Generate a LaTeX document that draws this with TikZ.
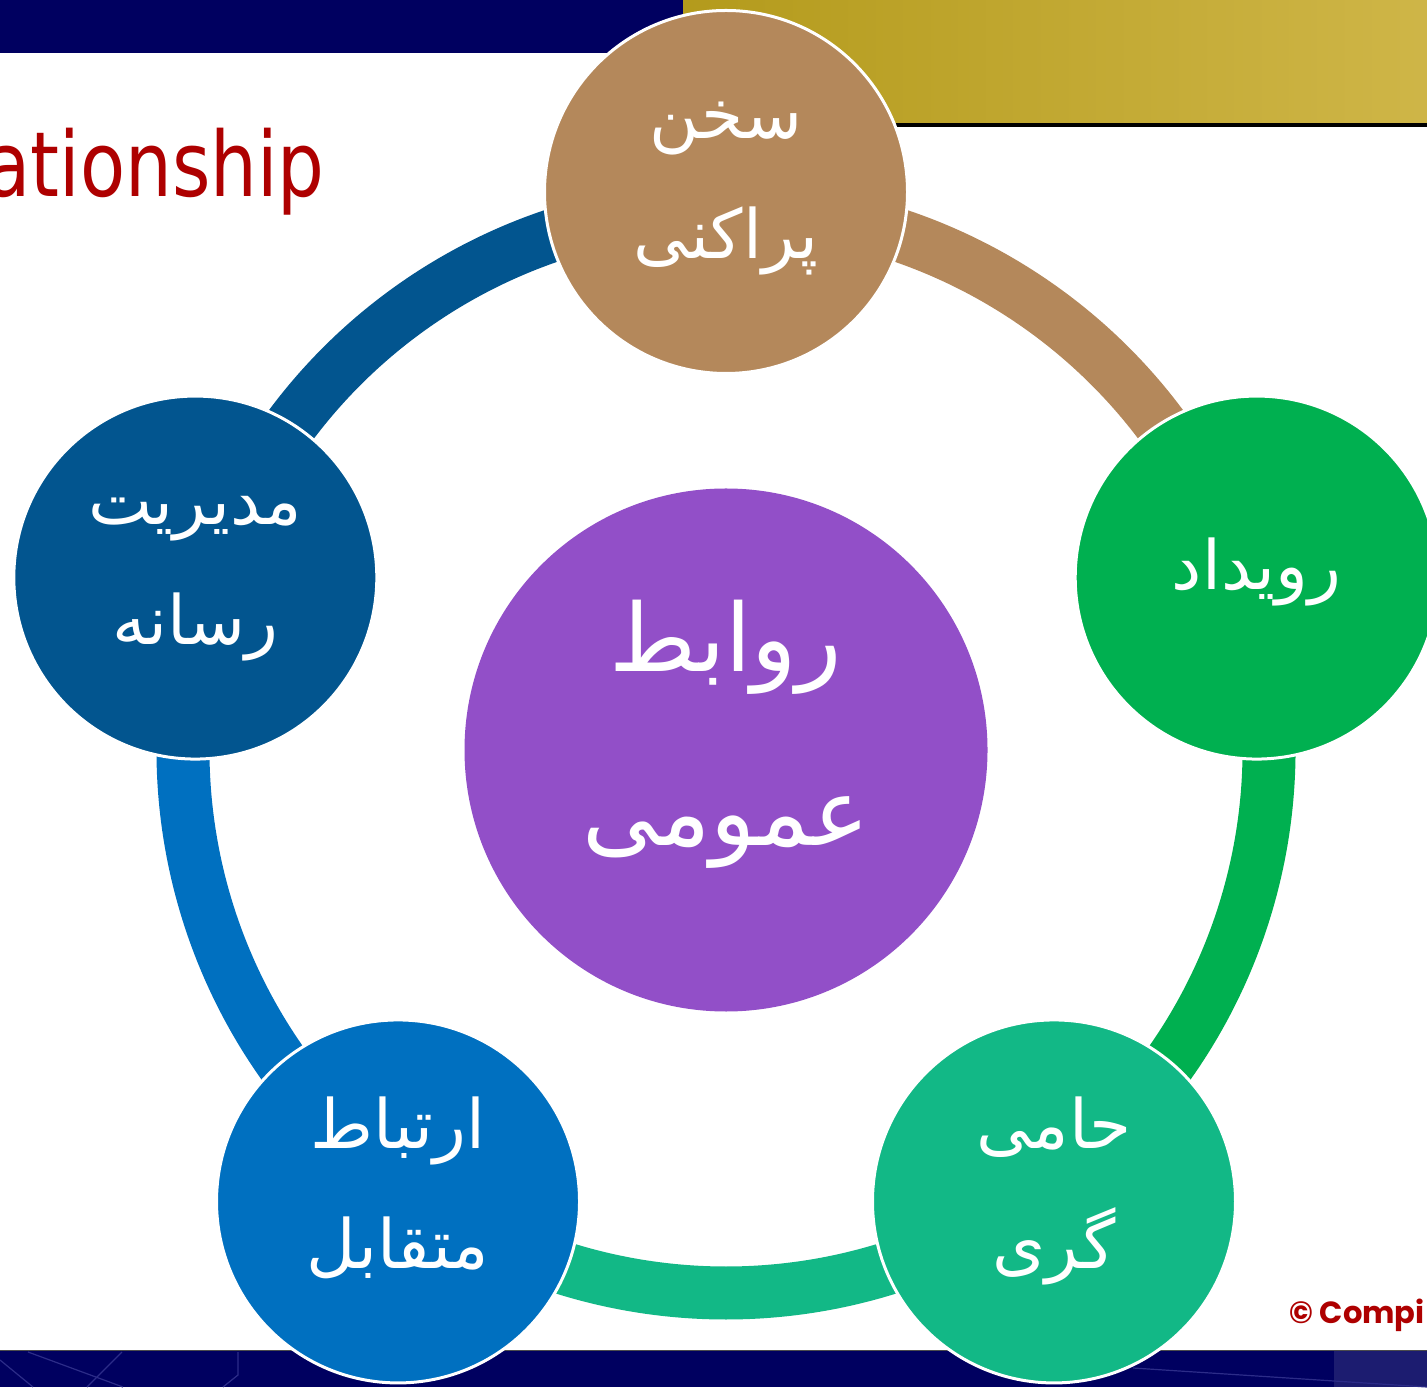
\documentclass[tikz,border=0pt]{standalone}
\usepackage{fontspec}
\usepackage{graphicx}
\usetikzlibrary{calc}
\TeXXeTstate=1
\newfontfamily\arabicfont[Script=Arabic]{DejaVu Sans}
\newfontfamily\titlefont{DejaVu Sans}
\newfontfamily\copyfont{Poppins}
\definecolor{navy}{HTML}{000060}
\definecolor{navylight}{HTML}{1C1C70}
\definecolor{navyline}{HTML}{2C2C88}
\definecolor{gold0}{HTML}{6A5A18}
\definecolor{gold1}{HTML}{A28816}
\definecolor{gold2}{HTML}{B39A1B}
\definecolor{gold3}{HTML}{DCC35D}
\definecolor{titlered}{HTML}{AE0000}
\definecolor{cbrown}{HTML}{B4885B}
\definecolor{cgreen}{HTML}{00B050}
\definecolor{cteal}{HTML}{12B886}
\definecolor{cblue}{HTML}{0070C0}
\definecolor{cdblue}{HTML}{02558F}
\definecolor{cpurple}{HTML}{924FC8}
\pgfdeclarehorizontalshading{goldbar}{100bp}{color(0bp)=(gold0); color(14bp)=(gold1); color(24bp)=(gold2); color(100bp)=(gold3)}
\begin{document}
\begin{tikzpicture}[x=0.5pt,y=0.5pt,
  ring/.style={line width=26.5pt},
  petal/.style={circle, draw=white, line width=1.5pt, minimum size=181.5pt, inner sep=0pt},
  lbl/.style={text=white, anchor=base, inner sep=0pt, font=\arabicfont\fontsize{34}{40}\selectfont},
  biglbl/.style={lbl, font=\arabicfont\fontsize{47}{56}\selectfont}]
\useasboundingbox (0,0) rectangle (1427,1387);
\clip (0,0) rectangle (1427,1387);
\fill[white] (0,0) rectangle (1427,1387);
% top bars
\fill[navy] (0,1334) rectangle (700,1387);
\shade[shading=goldbar] (683,1264) rectangle (1427,1387);
\fill[black] (683,1260) rectangle (1427,1264);
% bottom bar
\fill[navy] (0,0) rectangle (1427,36);
\fill[navylight] (1334,0) rectangle (1427,36);
\draw[black!70, line width=0.6pt] (0,36.5) -- (1427,36.5);
\begin{scope}[navyline, line width=0.6pt]
\draw (28,35) -- (123,0);
\draw (122,35) -- (87,0);
\draw (0,27) -- (33,0);
\draw (238,35) -- (238,12) -- (223,0);
\draw (1133,19) -- (1427,0);
\end{scope}
% title and copyright
\node[anchor=base east, inner sep=0pt, text=titlered, font=\titlefont\fontsize{45}{54}\selectfont] (title) at (325,1190) {\scalebox{0.82}[1]{ationship}};
\node[anchor=base west, inner sep=0pt, text=titlered, font=\copyfont\bfseries\fontsize{15.3}{18}\selectfont] (copy) at (1289,64) {© Compi};
% ring
\coordinate (ctr) at (726,637);
\draw[ring, cbrown] ($(ctr)+(90:543)$) arc[start angle=90, end angle=18, radius=543];
\draw[ring, cgreen] ($(ctr)+(18:543)$) arc[start angle=18, end angle=-54, radius=543];
\draw[ring, cteal] ($(ctr)+(-54:543)$) arc[start angle=-54, end angle=-126, radius=543];
\draw[ring, cblue] ($(ctr)+(-126:543)$) arc[start angle=-126, end angle=-198, radius=543];
\draw[ring, cdblue] ($(ctr)+(162:543)$) arc[start angle=162, end angle=90, radius=543];
% circles
\node[circle, fill=cpurple, minimum size=261.5pt, inner sep=0pt] (core) at (ctr) {};
\node[petal, fill=cbrown] (pTop) at ($(ctr)+(90:558)$) {};
\node[petal, fill=cgreen] (pRight) at ($(ctr)+(18:558)$) {};
\node[petal, fill=cteal] (pBR) at ($(ctr)+(-54:558)$) {};
\node[petal, fill=cblue] (pBL) at ($(ctr)+(-126:558)$) {};
\node[petal, fill=cdblue] (pLeft) at ($(ctr)+(162:558)$) {};
% labels
\node[biglbl] (core1) at ($(core)+(0,78)$) {\beginR روابط\endR};
\node[biglbl] (core2) at ($(core)+(0,-95)$) {\beginR عمومی\endR};
\node[lbl] (top1) at ($(pTop)+(0,53)$) {\beginR سخن\endR};
\node[lbl] (top2) at ($(pTop)+(0,-67)$) {\beginR پراکنی\endR};
\node[lbl] (right1) at ($(pRight)+(0,-12)$) {\beginR رویداد\endR};
\node[lbl] (br1) at ($(pBR)+(0,53)$) {\beginR حامی\endR};
\node[lbl] (br2) at ($(pBR)+(0,-67)$) {\beginR گری\endR};
\node[lbl] (bl1) at ($(pBL)+(0,53)$) {\beginR ارتباط\endR};
\node[lbl] (bl2) at ($(pBL)+(0,-67)$) {\beginR متقابل\endR};
\node[lbl] (left1) at ($(pLeft)+(0,53)$) {\beginR مدیریت\endR};
\node[lbl] (left2) at ($(pLeft)+(0,-67)$) {\beginR رسانه\endR};
\end{tikzpicture}
\end{document}
